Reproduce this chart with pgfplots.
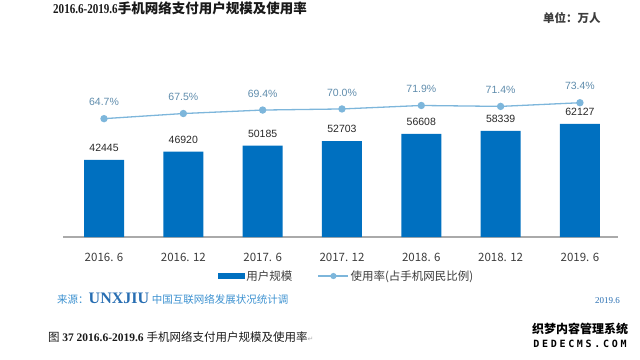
\documentclass[border=0pt]{standalone}
\usepackage{fontspec}
\setmainfont{Liberation Sans}
\newfontfamily\cjk{Noto Sans CJK SC}
\newfontfamily\serif{Liberation Serif}
\newfontfamily\dvs{DejaVu Sans}
\newfontfamily\mono[LetterSpace=27]{DejaVu Sans Mono}
\usepackage{pgfplots}
\pgfplotsset{compat=1.18}
\definecolor{barblue}{RGB}{0,112,192}
\definecolor{lineblue}{RGB}{125,182,219}
\definecolor{pctc}{RGB}{95,140,172}
\definecolor{valc}{RGB}{40,40,40}
\definecolor{axgray}{RGB}{170,170,170}
\definecolor{tickc}{RGB}{60,60,60}
\definecolor{srcblue}{RGB}{60,145,208}
\definecolor{unxblue}{RGB}{40,110,178}
\definecolor{titlec}{RGB}{25,25,25}
\begin{document}
\begin{tikzpicture}[x=1bp,y=1bp]
\path[use as bounding box] (0,0) rectangle (640,359);
% title
\node[anchor=west, inner sep=0, text=titlec] at (53,351) {\fontsize{13.5bp}{15bp}\selectfont\serif\bfseries\scalebox{0.82}[1]{2016.6-2019.6}\cjk\bfseries 手机网络支付用户规模及使用率};
\node[anchor=west, inner sep=0, text=tickc] at (543,341) {\fontsize{11.5bp}{13bp}\selectfont\cjk\bfseries 单位：万人};
% bars
\begin{axis}[at={(63bp,122bp)}, anchor=south west, width=555bp, height=145.6bp, scale only axis,
  xmin=-0.517, xmax=6.48, ymin=0, ymax=80000,
  axis y line=none, axis x line*=bottom,
  x axis line style={draw=axgray, line width=1.6bp, -},
  xtick={0,1,2,3,4,5,6},
  xticklabels={2016. 6,2016. 12,2017. 6,2017. 12,2018. 6,2018. 12,2019. 6},
  major tick length=0pt,
  xticklabel style={font=\cjk\fontsize{11.5bp}{13bp}\selectfont, text=tickc, anchor=center, inner sep=0pt, yshift=-20bp},
  clip=false,
  /pgf/number format/1000 sep={},
  /pgf/number format/assume math mode=true]
\addplot[ybar, bar width=0.504, fill=barblue, draw=none,
  nodes near coords,
  every node near coord/.append style={font=\fontsize{10.5bp}{12bp}\selectfont, text=valc, anchor=south, inner sep=0pt, yshift=8bp}]
  coordinates {(0,42445) (1,46920) (2,50185) (3,52703) (4,56608) (5,58339) (6,62127)};
\end{axis}
% line
\begin{axis}[at={(63bp,122bp)}, anchor=south west, width=555bp, height=145.6bp, scale only axis,
  xmin=-0.517, xmax=6.48, ymin=0, ymax=79.6,
  hide axis, clip=false,
  /pgf/number format/assume math mode=true,
  legend style={at={(0.511,-0.268)}, anchor=center, draw=none, fill=none, legend columns=2,
    font=\cjk\fontsize{11.5bp}{13bp}\selectfont, text=tickc, inner sep=0pt,
    nodes={inner sep=1.5bp},
    /tikz/every even column/.append style={column sep=24bp}}]
\addlegendimage{legend image code/.code={\fill[barblue] (0bp,-2.6bp) rectangle (26bp,2.6bp);}}
\addlegendentry{用户规模}
\addplot[color=lineblue, line width=1.3bp, mark=*, mark size=3bp, mark options={fill=lineblue, draw=lineblue},
  legend image code/.code={\draw[lineblue, line width=1.3bp] (0bp,0bp) -- (30bp,0bp); \fill[lineblue] (15bp,0bp) circle (2.4bp);},
  nodes near coords={\pgfmathprintnumber[fixed,fixed zerofill,precision=1]{\pgfplotspointmeta}\%},
  every node near coord/.append style={font=\fontsize{10.5bp}{12bp}\selectfont, text=pctc, anchor=south, inner sep=0pt, yshift=12bp}]
  coordinates {(0,64.7) (1,67.5) (2,69.4) (3,70.0) (4,71.9) (5,71.4) (6,73.4)};
\addlegendentry{使用率(占手机网民比例)}
\end{axis}
% source
\node[anchor=base west, inner sep=0] at (57,56) {{\color{srcblue}\cjk\fontsize{10.5bp}{12bp}\selectfont 来源：}{\color{unxblue}\serif\bfseries\fontsize{16bp}{17bp}\selectfont UNXJIU} {\color{srcblue}\cjk\fontsize{10.5bp}{12bp}\selectfont 中国互联网络发展状况统计调}};
\node[anchor=base east, inner sep=0, text=unxblue] at (620,56) {\serif\fontsize{9bp}{11bp}\selectfont 2019.6};
% caption
\node[anchor=base west, inner sep=0, text=titlec] at (48,18) {\fontsize{11.5bp}{13bp}\selectfont\cjk 图 \serif\bfseries 37 2016.6-2019.6 \cjk\mdseries 手机网络支付用户规模及使用率{\dvs\color{gray!60}\fontsize{7bp}{8bp}\selectfont ↵}};
% watermark
\node[anchor=center, inner sep=0, text=black] at (580,30) {\fontsize{12bp}{13bp}\selectfont\cjk\bfseries 织梦内容管理系统};
\node[anchor=center, inner sep=0, text=black] at (580,15) {\fontsize{10bp}{11bp}\selectfont\mono\bfseries DEDECMS.COM};
\end{tikzpicture}
\end{document}
